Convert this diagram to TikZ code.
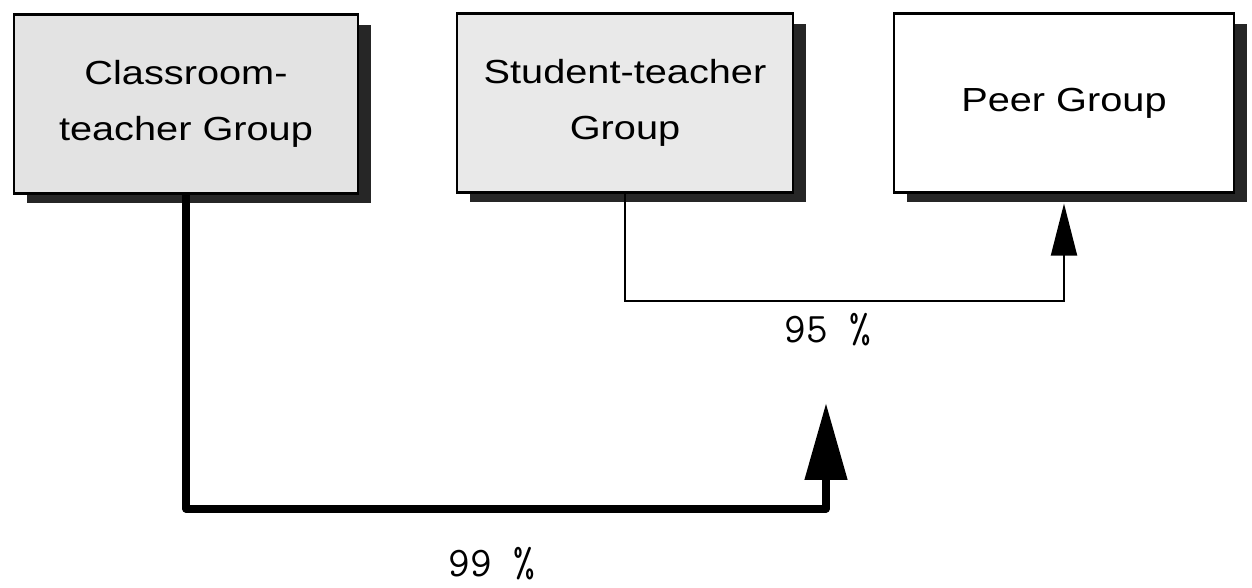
\documentclass[tikz,border=0pt]{standalone}
\usepackage{fontspec}
\usepackage{tikz}
\usetikzlibrary{positioning,shadows,arrows.meta}
\newfontfamily\boxfont{Liberation Sans}[FakeStretch=1.19]

\begin{document}
\begin{tikzpicture}[x=0.02cm,y=-0.02cm,
    grp/.style={draw, line width=1.2pt, align=center, inner sep=0pt,
        minimum height=3.58cm,
        font=\boxfont\fontsize{19}{31.5}\selectfont,
        drop shadow={shadow xshift=0.26cm, shadow yshift=-0.2cm, fill=black!85, opacity=1}},
    pct/.style={font=\ttfamily\fontsize{24}{28}\selectfont}]
            \useasboundingbox (0,0) rectangle (1252,588);
            \node[grp, fill=gray!22, minimum width=6.88cm](cls) at (186,104){Classroom-\\teacher Group};
            \node[grp, fill=gray!17, minimum width=6.72cm](stu) at (625,103){Student-teacher\\Group};
            \node[grp, fill=white, minimum width=6.8cm](peer) at (1064,103){Peer Group};
            \coordinate (tip) at (826,403);
            \node[pct](p95) at (828,330){95 \%};
            \node[pct](p99) at (492,564){99 \%};
            \draw[line width=1.1pt, -{Triangle[length=1.04cm, width=0.52cm]}, shorten >=0.2cm]
                (stu.south) -- ++(0,107) -| (peer.south);
            \draw[line width=0.16cm, line join=round, -{Triangle[length=1.54cm, width=0.82cm]}]
                (cls.south) -- ++(0,314) -| (tip);
\end{tikzpicture}
\end{document}
